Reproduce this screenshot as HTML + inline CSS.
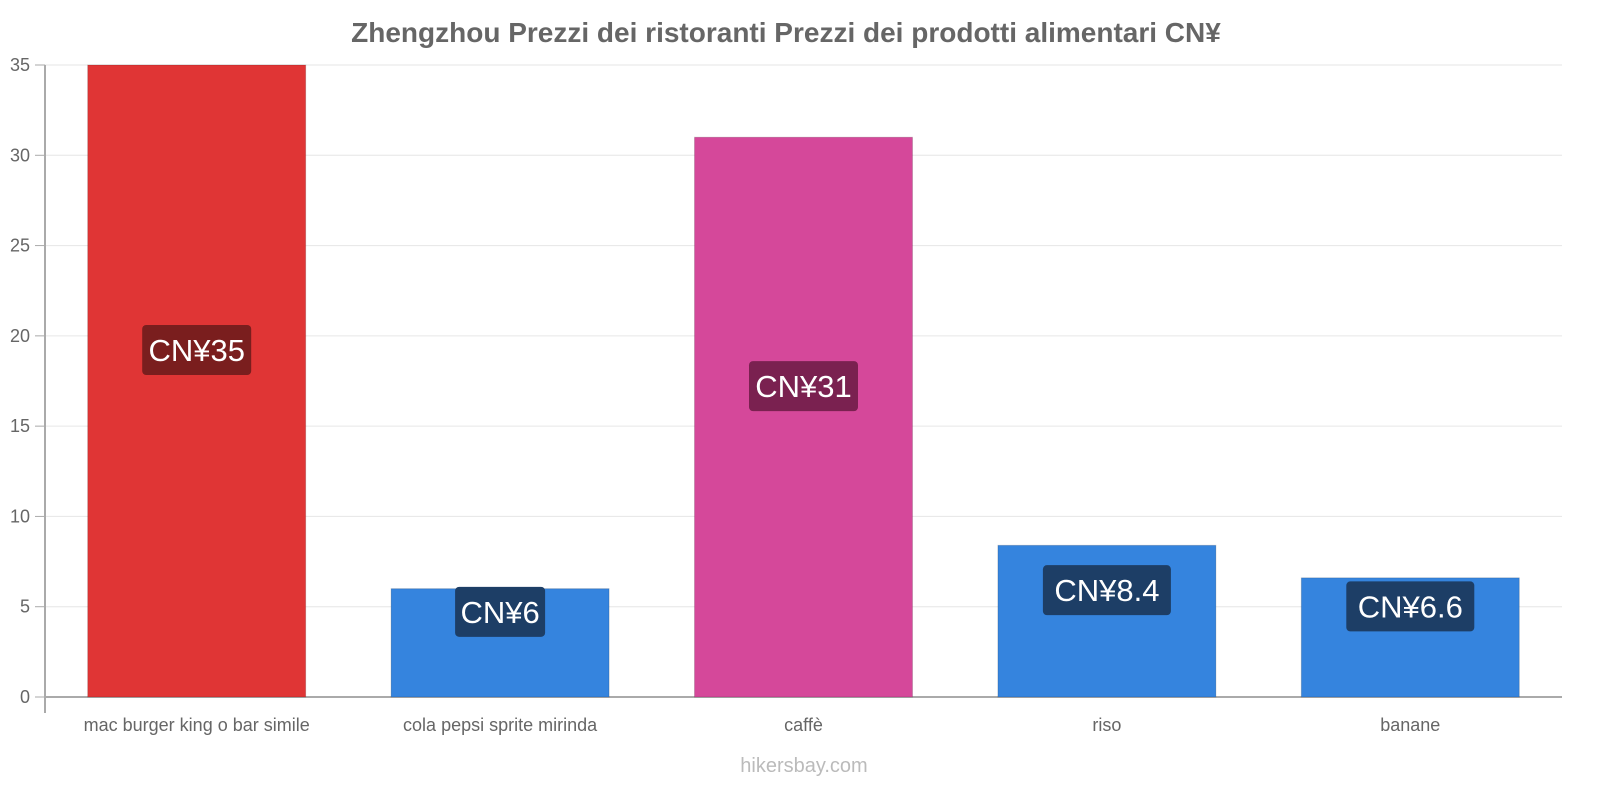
<!DOCTYPE html>
<html><head><meta charset="utf-8">
<style>
html,body{margin:0;padding:0;background:#fff;}
body{width:1600px;height:800px;overflow:hidden;font-family:"Liberation Sans","Noto Sans CJK SC",sans-serif;}
</style></head>
<body>
<svg id="chart" width="1600" height="800" xmlns="http://www.w3.org/2000/svg">
<text x="786" y="42" text-anchor="middle" font-size="28" font-weight="bold" fill="#666">Zhengzhou Prezzi dei ristoranti Prezzi dei prodotti alimentari CN¥</text>
<g id="grid"></g>
<g id="bars"></g>
<g id="labels"></g>
<text x="804" y="772" text-anchor="middle" font-size="20" fill="#bbb">hikersbay.com</text>
</svg>
<script>
const categories = ["mac burger king o bar simile","cola pepsi sprite mirinda","caffè","riso","banane"];
const values = [35, 6, 31, 8.4, 6.6];
const valueLabels = ["CN¥35","CN¥6","CN¥31","CN¥8.4","CN¥6.6"];
const barColors = ["#e03535","#3584de","#d5489a","#3584de","#3584de"];
const labelColors = ["#7a1e1e","#1d3e66","#7a2150","#1d3e66","#1d3e66"];
const yTicks = [0,5,10,15,20,25,30,35];

const NS="http://www.w3.org/2000/svg";
const x0=45, x1=1562, y0=697, yTop=65, yMax=35;
const y = v => y0 - (v/yMax)*(y0-yTop);
const band=(x1-x0)/categories.length;
const xc = i => x0 + band*(i+0.5);
const bw = 218;
function mk(tag, attrs, parent){const e=document.createElementNS(NS,tag);for(const k in attrs)e.setAttribute(k,attrs[k]);parent.appendChild(e);return e;}
const grid=document.getElementById('grid'), bars=document.getElementById('bars'), labels=document.getElementById('labels');
yTicks.forEach(t=>{
  const l=mk('line',{x1:x0,x2:x1,y1:y(t),y2:y(t),stroke:t===0?'#aaa':'#e6e6e6','stroke-width':t===0?2:1},grid);
  
  
  const tk=mk('line',{x1:x0-10,x2:x0,y1:y(t),y2:y(t),stroke:'#aaa'},grid);
  
  
  const tx=mk('text',{x:30,y:y(t)+6,'text-anchor':'end','font-size':18,fill:'#666'},grid);
  tx.textContent=t;
  
  
});
const ax=mk('line',{x1:x0,x2:x0,y1:yTop,y2:713,stroke:'#aaa','stroke-width':2},grid);


categories.forEach((c,i)=>{
  const top=y(values[i]);
  const r=mk('rect',{x:xc(i)-bw/2,y:top,width:bw,height:y0-top,fill:barColors[i],stroke:'rgba(0,0,0,0.15)'},bars);
  
  
  const cy=(top+y0)/2-31;
  const w=valueLabels[i].length*19+14;
  const b=mk('rect',{x:xc(i)-w/2,y:cy-25,width:w,height:50,rx:4,fill:labelColors[i]},labels);
  
  
  const t=mk('text',{x:xc(i),y:cy+11,'text-anchor':'middle','font-size':31,fill:'#fff'},labels);
  t.textContent=valueLabels[i];
  
  
  const cl=mk('text',{x:xc(i),y:731,'text-anchor':'middle','font-size':18,fill:'#666'},labels);
  cl.textContent=c;
  
  
});
</script>
</body></html>
